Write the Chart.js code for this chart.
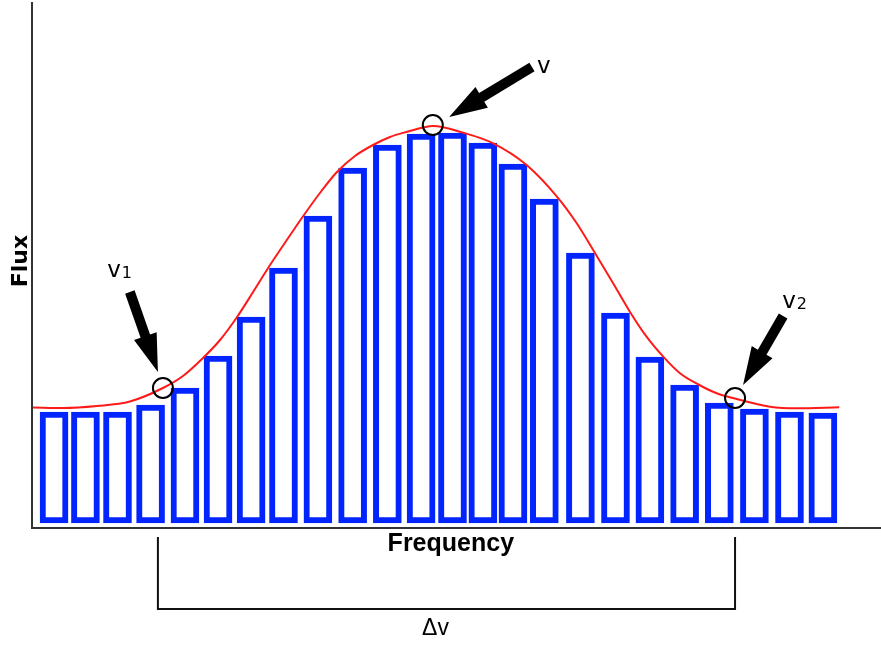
<!DOCTYPE html>
<html>
<head>
<meta charset="utf-8">
<script src="https://cdn.jsdelivr.net/npm/chart.js@4/dist/chart.umd.min.js"></script>
<style>
    html, body { margin: 0; padding: 0; background: #fff; }
    canvas { display: block; }
</style>
</head>
<body>
<canvas id="graphique" width="881" height="645"></canvas>
<script>
// centres des barres sur l'axe des fréquences
const frequences = [0.66, 1.60, 2.56, 3.55, 4.58, 5.57, 6.56, 7.53, 8.56, 9.60, 10.64, 11.65,
                    12.59, 13.50, 14.40, 15.34, 16.42, 17.47, 18.50, 19.54, 20.58, 21.63, 22.68, 23.68];
const flux = [11.1, 11.1, 11.1, 11.8, 13.5, 16.7, 20.6, 25.5, 30.7, 35.5, 37.8, 38.9,
              39.0, 38.0, 35.9, 32.4, 27.0, 21.0, 16.6, 13.8, 12.0, 11.4, 11.1, 11.0];

// courbe ajustée (rouge)
const courbeX = [0.03, 0.94, 1.94, 2.93, 3.92, 4.52, 5.12, 5.63, 6.14, 6.62, 7.07, 7.57,
                 8.08, 8.62, 9.13, 9.67, 10.21, 10.72, 11.26, 11.71, 12.01, 12.91, 13.81,
                 14.81, 15.76, 16.31, 16.86, 17.40, 17.90, 18.40, 18.90, 19.40, 19.98,
                 20.50, 21.02, 22.10, 22.89, 24.17];
const courbeY = [11.55, 11.5, 11.7, 12.15, 13.5, 14.7, 16.5, 18.3, 20.6, 23.1, 25.5, 28.0,
                 30.5, 33.0, 35.1, 36.7, 37.8, 38.6, 39.15, 39.55, 39.7, 39.03, 37.97,
                 35.8, 32.47, 29.97, 26.97, 23.97, 21.13, 18.63, 16.63, 14.97, 13.8,
                 12.97, 12.47, 11.63, 11.47, 11.57];

// repères v1, v, v2
const cerclesX = [3.92, 12.0, 21.05];
const cerclesY = [13.5, 39.8, 12.5];
const flecheDepart = [[2.93, 23.1], [14.97, 45.6], [22.49, 20.7]];
const flecheArrivee = [[3.77, 15.1], [12.49, 40.6], [21.29, 13.8]];
const etiquettes = [['v', '1'], ['v', ''], ['v', '2']];
const etiquettesPos = [[2.25, 24.6], [15.12, 45.0], [22.46, 21.5]];

// crochet delta v
const crochetX = [3.77, 21.05];
const crochetY = [-1.4, -8.6];

const annotations = {
    id: 'annotations',
    afterDatasetsDraw(chart) {
        const ctx = chart.ctx;
        const sx = chart.scales.x, sy = chart.scales.y;
        const px = v => sx.getPixelForValue(v);
        const py = v => sy.getPixelForValue(v);
        ctx.save();

        // cercles
        ctx.strokeStyle = '#000';
        ctx.lineWidth = 2;
        cerclesX.forEach((cx, i) => {
            ctx.beginPath();
            ctx.arc(px(cx), py(cerclesY[i]), 10, 0, Math.PI * 2);
            ctx.stroke();
        });

        // flèches
        ctx.fillStyle = '#000';
        flecheDepart.forEach((d, i) => {
            const x0 = px(d[0]), y0 = py(d[1]);
            const x1 = px(flecheArrivee[i][0]), y1 = py(flecheArrivee[i][1]);
            const len = Math.hypot(x1 - x0, y1 - y0);
            const ux = (x1 - x0) / len, uy = (y1 - y0) / len;
            const nx = -uy, ny = ux;
            const tete = 38, demiTete = 12, demiTige = 5;
            const bx = x1 - ux * tete, by = y1 - uy * tete;
            ctx.beginPath();
            ctx.moveTo(x0 + nx * demiTige, y0 + ny * demiTige);
            ctx.lineTo(bx + nx * demiTige, by + ny * demiTige);
            ctx.lineTo(bx + nx * demiTete, by + ny * demiTete);
            ctx.lineTo(x1, y1);
            ctx.lineTo(bx - nx * demiTete, by - ny * demiTete);
            ctx.lineTo(bx - nx * demiTige, by - ny * demiTige);
            ctx.lineTo(x0 - nx * demiTige, y0 - ny * demiTige);
            ctx.closePath();
            ctx.fill();
        });

        // étiquettes v1, v, v2
        ctx.textAlign = 'left';
        ctx.textBaseline = 'alphabetic';
        etiquettes.forEach((e, i) => {
            const x = px(etiquettesPos[i][0]), y = py(etiquettesPos[i][1]);
            ctx.font = '23px "DejaVu Sans"';
            ctx.fillText(e[0], x, y);
            const w = ctx.measureText(e[0]).width;
            ctx.font = '16px "DejaVu Sans"';
            ctx.fillText(e[1], x + w + 1, y + 1);
        });

        // crochet
        ctx.strokeStyle = '#111';
        ctx.lineWidth = 2;
        ctx.beginPath();
        ctx.moveTo(px(crochetX[0]), py(crochetY[0]));
        ctx.lineTo(px(crochetX[0]), py(crochetY[1]));
        ctx.lineTo(px(crochetX[1]), py(crochetY[1]));
        ctx.lineTo(px(crochetX[1]), py(crochetY[0]));
        ctx.stroke();

        // textes des axes
        ctx.textAlign = 'center';
        ctx.font = 'bold 25px "Liberation Sans"';
        ctx.fillText('Frequency', px(12.54), py(-2.8));
        ctx.font = '23px "Liberation Sans"';
        ctx.fillText('Δv', px(12.08), py(-11.2));

        ctx.translate(px(-0.14), py(26.2));
        ctx.rotate(-Math.PI / 2);
        ctx.font = 'bold 22px "DejaVu Sans"';
        ctx.fillText('Flux', 0, 0);

        ctx.restore();
    }
};

const ctx = document.getElementById('graphique').getContext('2d');
const graphique = new Chart(ctx, {
    type: 'bar',
    data: {
        datasets: [{
            type: 'line',
            data: courbeX.map((x, i) => ({ x: x, y: courbeY[i] })),
            borderColor: '#ff1a1a',
            borderWidth: 2,
            pointRadius: 0,
            fill: false,
            cubicInterpolationMode: 'monotone'
        }, {
            type: 'bar',
            data: frequences.map((x, i) => ({ x: x, y: flux[i] })),
            backgroundColor: '#ffffff',
            borderColor: '#0224ff',
            borderWidth: 6,
            borderSkipped: false,
            barThickness: 28
        }]
    },
    options: {
        responsive: false,
        animation: false,
        layout: { padding: { left: 32, top: 3, right: 0, bottom: 117 } },
        plugins: {
            legend: { display: false },
            tooltip: { enabled: false }
        },
        scales: {
            x: {
                type: 'linear',
                min: 0,
                max: 25.42,
                offset: false,
                ticks: { display: false },
                grid: { display: false, drawTicks: false },
                border: { display: true, color: '#333', width: 2 }
            },
            y: {
                min: -0.5,
                max: 52,
                ticks: { display: false },
                grid: { display: false, drawTicks: false },
                border: { display: true, color: '#333', width: 2 }
            }
        }
    },
    plugins: [annotations]
});
</script>
</body>
</html>
